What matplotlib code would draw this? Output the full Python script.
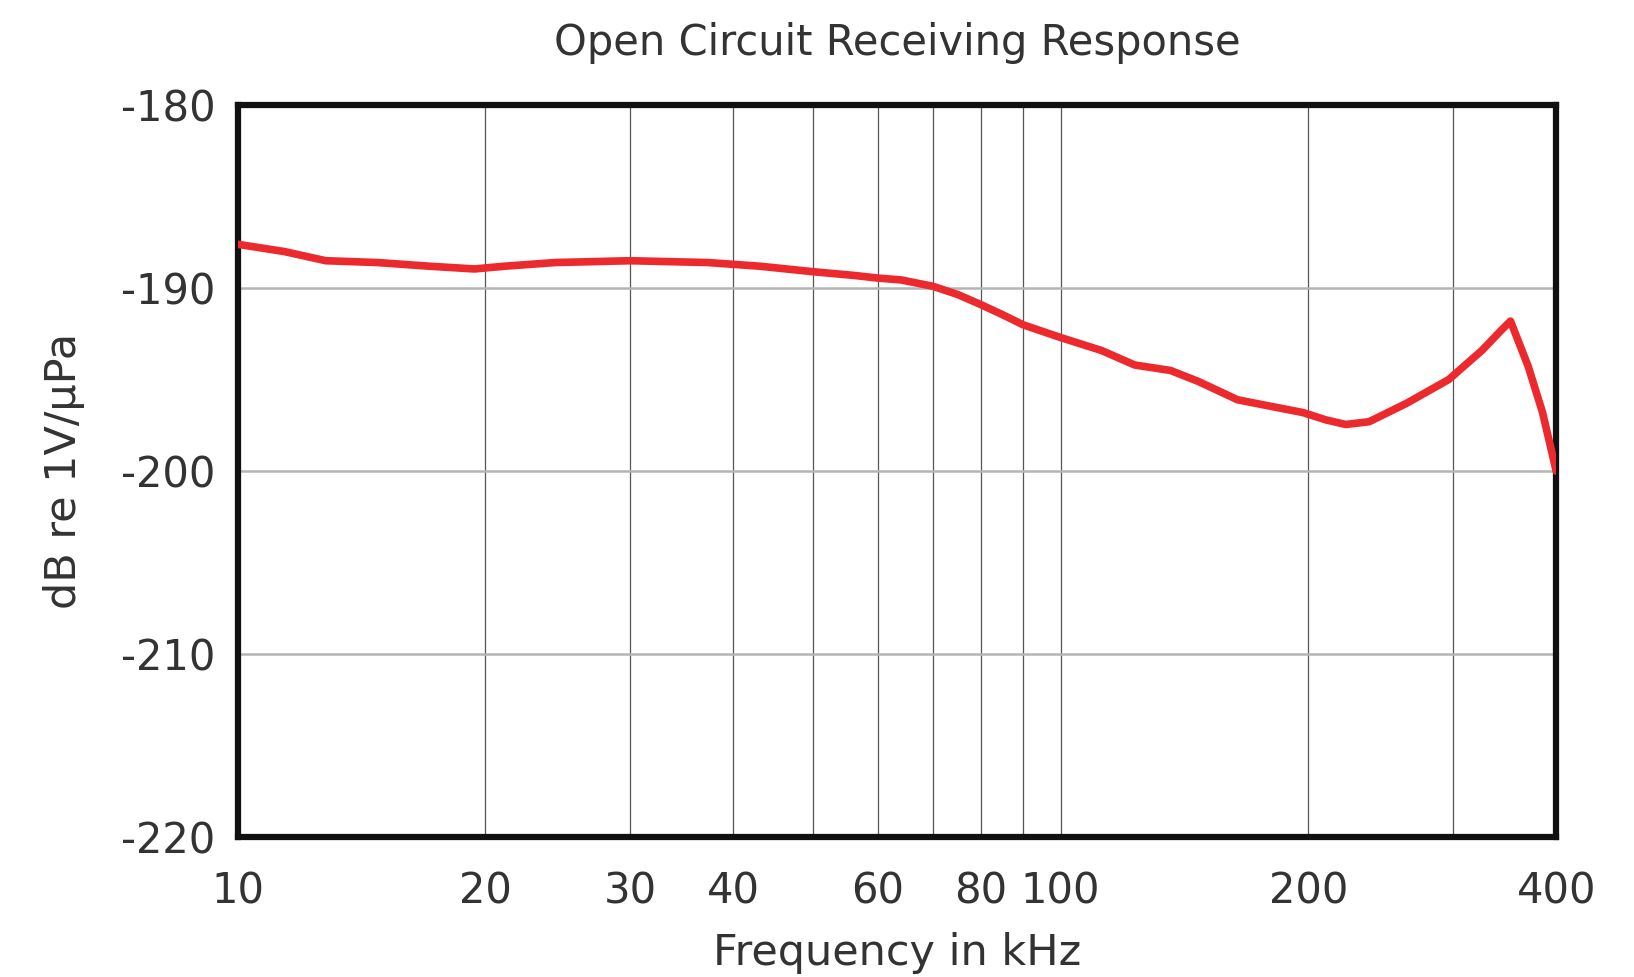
import matplotlib.pyplot as plt
from matplotlib.ticker import FixedLocator, NullFormatter

# frequency in kHz and open circuit receiving response in dB re 1V/uPa
freq = [10, 11.4, 12.8, 14.8, 17.1, 19.4, 21.1, 24.3, 30, 37.3, 43.1, 50, 56, 60,
        64, 70, 75, 80, 85, 90, 100, 112, 123, 136, 147, 164, 182, 197, 210, 222,
        237, 263, 296, 325, 343, 352, 370, 385, 400]
resp = [-187.6, -188.0, -188.5, -188.6, -188.8, -188.95, -188.8, -188.6, -188.5,
        -188.6, -188.8, -189.1, -189.3, -189.45, -189.55, -189.9, -190.35, -190.9,
        -191.45, -192.0, -192.7, -193.4, -194.2, -194.5, -195.1, -196.1, -196.5,
        -196.8, -197.2, -197.45, -197.3, -196.3, -195.0, -193.4, -192.3, -191.8,
        -194.3, -196.8, -200.0]

x_grid = [20, 30, 40, 50, 60, 70, 80, 90, 100, 200, 300]
x_labels = [10, 20, 30, 40, 60, 80, 100, 200, 400]
y_ticks = [-180, -190, -200, -210, -220]

txt = '#333333'
fig = plt.figure(figsize=(16.34, 9.77), dpi=100)
ax = fig.add_axes([0.1454, 0.1433, 0.807, 0.749])

ax.plot(freq, resp, color='#ec2a2e', lw=5.5, solid_capstyle='round',
        solid_joinstyle='round', zorder=3)

ax.set_xscale('log')
ax.set_xlim(10, 400)
ax.set_ylim(-220, -180)

ax.xaxis.set_major_locator(FixedLocator(x_labels))
ax.xaxis.set_minor_locator(FixedLocator(x_grid))
ax.xaxis.set_major_formatter(plt.FuncFormatter(lambda v, p: f'{v:g}'))
ax.xaxis.set_minor_formatter(NullFormatter())
ax.set_yticks(y_ticks)
ax.set_yticklabels([str(v) for v in y_ticks])

for f in x_grid:
    ax.axvline(f, color='#555555', lw=0.9, zorder=1)
for y in y_ticks[1:-1]:
    ax.axhline(y, color='#b5b5b5', lw=1.8, zorder=1)

ax.tick_params(which='both', length=0)
ax.tick_params(axis='x', pad=24, labelsize=30, labelcolor=txt)
ax.tick_params(axis='y', pad=16, labelsize=30, labelcolor=txt)

for s in ax.spines.values():
    s.set_linewidth(4.5)
    s.set_color('#111111')

ax.set_title('Open Circuit Receiving Response', fontsize=30, color=txt, pad=36)
ax.set_xlabel('Frequency in kHz', fontsize=31, color=txt, labelpad=14)
ax.set_ylabel('dB re 1V/µPa', fontsize=31, color=txt, labelpad=26)

fig.savefig('out.png', dpi=100)
